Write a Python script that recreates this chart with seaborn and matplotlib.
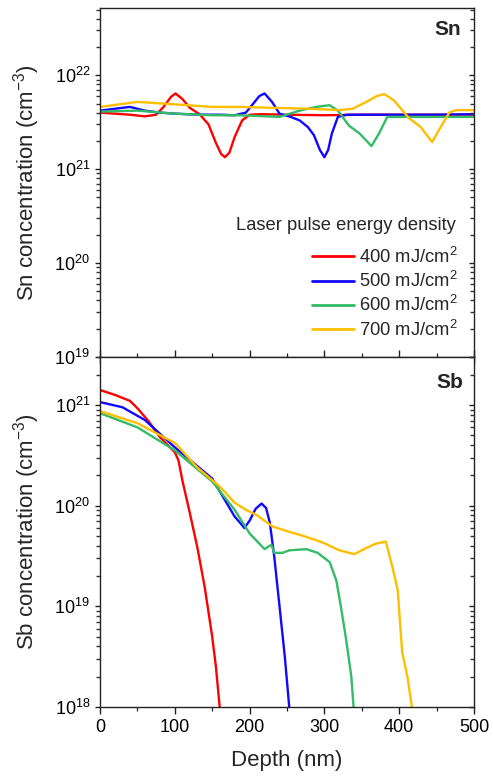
import matplotlib
matplotlib.use('Agg')
import matplotlib.pyplot as plt
from matplotlib.lines import Line2D
from matplotlib.ticker import MultipleLocator, FixedLocator, NullFormatter, LogFormatterSciNotation
import seaborn as sns
import pandas as pd
import numpy as np

# ---------------- data ----------------
energies = ['400 mJ/cm$^2$', '500 mJ/cm$^2$', '600 mJ/cm$^2$', '700 mJ/cm$^2$']
colors = ['#FF0000', '#1208FF', '#33BB66', '#FFBF00']

# Sn profiles (depth nm, concentration cm^-3)
sn_400_d = [0, 20, 40, 60, 75, 85, 95, 101, 110, 120, 133, 145, 155, 162, 167, 173, 180, 190, 200, 215, 250, 300, 350, 400, 450, 500]
sn_400_c = [4.0e21, 3.9e21, 3.8e21, 3.65e21, 3.8e21, 4.6e21, 5.9e21, 6.4e21, 5.6e21, 4.5e21, 3.85e21, 3.0e21, 1.9e21,
            1.45e21, 1.34e21, 1.5e21, 2.2e21, 3.3e21, 3.8e21, 3.85e21, 3.8e21, 3.75e21, 3.8e21, 3.8e21, 3.8e21, 3.8e21]

sn_500_d = [0, 20, 40, 60, 80, 100, 130, 160, 180, 195, 205, 213, 220, 230, 240, 255, 267, 278, 286, 294, 300, 305, 310, 318, 330, 360, 400, 450, 500]
sn_500_c = [4.2e21, 4.4e21, 4.6e21, 4.2e21, 4.0e21, 3.9e21, 3.8e21, 3.8e21, 3.75e21, 4.0e21, 5.0e21, 6.0e21, 6.4e21, 5.2e21,
            3.9e21, 3.6e21, 3.3e21, 2.8e21, 2.3e21, 1.6e21, 1.34e21, 1.6e21, 2.4e21, 3.6e21, 3.8e21, 3.8e21, 3.8e21, 3.8e21, 3.85e21]

sn_600_d = [0, 50, 100, 150, 187, 240, 267, 289, 307, 318, 333, 347, 363, 373, 384, 400, 450, 500]
sn_600_c = [4.1e21, 4.2e21, 3.9e21, 3.75e21, 3.75e21, 3.6e21, 4.2e21, 4.6e21, 4.8e21, 4.2e21, 2.9e21, 2.4e21, 1.76e21,
            2.4e21, 3.6e21, 3.6e21, 3.6e21, 3.6e21]

sn_700_d = [0, 50, 100, 150, 187, 230, 280, 320, 338, 356, 370, 380, 393, 404, 413, 429, 444, 453, 467, 476, 500]
sn_700_c = [4.6e21, 5.2e21, 4.9e21, 4.6e21, 4.6e21, 4.5e21, 4.4e21, 4.25e21, 4.4e21, 5.2e21, 6.0e21, 6.3e21, 5.4e21,
            4.25e21, 3.5e21, 2.8e21, 1.94e21, 2.6e21, 4.0e21, 4.25e21, 4.25e21]

# Sb profiles
sb_400_d = [0, 20, 40, 50, 65, 80, 100, 105, 110, 120, 130, 140, 150, 155, 160]
sb_400_c = [1.41e21, 1.26e21, 1.10e21, 9.3e20, 6.9e20, 4.8e20, 3.4e20, 2.8e20, 1.8e20, 8.5e19, 3.9e19, 1.55e19,
            5.0e18, 2.5e18, 1.0e18]

sb_500_d = [0, 30, 60, 100, 150, 180, 187, 193, 200, 208, 216, 222, 227, 233, 240, 247, 253]
sb_500_c = [1.07e21, 9.5e20, 7.1e20, 3.8e20, 1.86e20, 7.8e19, 6.8e19, 6.0e19, 7.1e19, 9.3e19, 1.05e20, 9.5e19,
            6.8e19, 3.1e19, 1.0e19, 3.2e18, 1.0e18]

sb_600_d = [0, 50, 100, 150, 180, 200, 220, 229, 233, 244, 253, 276, 291, 307, 316, 322, 329, 336, 339]
sb_600_c = [8.3e20, 6.0e20, 3.55e20, 1.74e20, 9.1e19, 5.3e19, 3.7e19, 4.1e19, 3.4e19, 3.4e19, 3.6e19, 3.7e19,
            3.4e19, 2.75e19, 1.8e19, 1.0e19, 4.7e18, 2.0e18, 1.0e18]

sb_700_d = [0, 50, 100, 130, 160, 180, 195, 209, 231, 253, 276, 298, 320, 340, 356, 369, 382, 391, 398, 404, 411, 417]
sb_700_c = [8.7e20, 6.6e20, 4.2e20, 2.4e20, 1.55e20, 1.07e20, 9.1e19, 8.1e19, 6.2e19, 5.5e19, 4.9e19, 4.3e19,
            3.6e19, 3.3e19, 3.8e19, 4.2e19, 4.4e19, 2.45e19, 1.45e19, 3.5e18, 2.0e18, 1.0e18]

x_ticks = [0, 100, 200, 300, 400, 500]
sn_yticks = [1e19, 1e20, 1e21, 1e22]
sb_yticks = [1e18, 1e19, 1e20, 1e21]


def long_df(ds, cs):
    frames = []
    for lab, d, c in zip(energies, ds, cs):
        frames.append(pd.DataFrame({'depth': d, 'conc': c, 'energy': lab}))
    return pd.concat(frames, ignore_index=True)


df_sn = long_df([sn_400_d, sn_500_d, sn_600_d, sn_700_d], [sn_400_c, sn_500_c, sn_600_c, sn_700_c])
df_sb = long_df([sb_400_d, sb_500_d, sb_600_d, sb_700_d], [sb_400_c, sb_500_c, sb_600_c, sb_700_c])


def minor_log(lo_exp, hi_exp):
    return [k * 10.0 ** e for e in range(lo_exp, hi_exp + 1) for k in range(2, 10)]


# ---------------- style ----------------
sns.set_style('ticks')
plt.rcParams['font.family'] = ['Liberation Sans', 'DejaVu Sans']
plt.rcParams['mathtext.fontset'] = 'custom'
plt.rcParams['mathtext.rm'] = 'Liberation Sans'
plt.rcParams['mathtext.it'] = 'Liberation Sans:italic'
plt.rcParams['mathtext.bf'] = 'Liberation Sans:bold'
plt.rcParams['axes.edgecolor'] = '#222222'
plt.rcParams['axes.linewidth'] = 1.0
plt.rcParams['ytick.minor.visible'] = True

fig = plt.figure(figsize=(4.93, 7.78), dpi=100)
fig.patch.set_facecolor('white')
ax1 = fig.add_axes([100 / 493, 421 / 778, 374 / 493, 349 / 778])
ax2 = fig.add_axes([100 / 493, 71 / 778, 374 / 493, 350 / 778])

palette = dict(zip(energies, colors))
for ax, df, yt in [(ax1, df_sn, sn_yticks), (ax2, df_sb, sb_yticks)]:
    sns.lineplot(data=df, x='depth', y='conc', hue='energy', hue_order=energies, palette=palette,
                 estimator=None, sort=False, linewidth=1.7, legend=False, ax=ax)
    ax.set_yscale('log')
    ax.set_xlim(0, 500)
    ax.xaxis.set_major_locator(MultipleLocator(100))
    ax.xaxis.set_minor_locator(MultipleLocator(50))
    ax.yaxis.set_major_locator(FixedLocator(yt))
    ax.yaxis.set_major_formatter(LogFormatterSciNotation())
    ax.yaxis.set_minor_locator(FixedLocator(minor_log(17, 22)))
    ax.yaxis.set_minor_formatter(NullFormatter())
    ax.tick_params(axis='y', which='major', direction='out', length=3.6, width=1.0, labelsize=13,
                   left=True, right=False, colors='#222222', labelcolor='black')
    ax.tick_params(axis='y', which='minor', direction='out', length=3.0, width=1.0, left=True, right=False,
                   colors='#333333')
    ax.set_xlabel('')

ax1.set_ylim(1e19, 5.2e22)
ax2.set_ylim(1e18, 3.0e21)

# x ticks
ax1.tick_params(axis='x', which='major', direction='inout', length=10, width=1.0, bottom=True, top=False,
                labelbottom=False, colors='#222222')
ax1.tick_params(axis='x', which='minor', direction='inout', length=6, width=0.9, bottom=True, top=False,
                colors='#222222')
ax2.set_xticks(x_ticks)
ax2.tick_params(axis='x', which='major', direction='out', length=5, width=1.0, bottom=True, top=False,
                labelsize=13, colors='#222222', labelcolor='black')
ax2.tick_params(axis='x', which='minor', direction='out', length=2.6, width=0.9, bottom=True, top=False,
                colors='#222222')

# right-side inward ticks
for ax, yt in [(ax1, sn_yticks), (ax2, sb_yticks)]:
    tw = ax.twinx()
    tw.set_yscale('log')
    tw.set_ylim(ax.get_ylim())
    tw.yaxis.set_major_locator(FixedLocator(yt))
    tw.yaxis.set_minor_locator(FixedLocator(minor_log(17, 22)))
    tw.yaxis.set_minor_formatter(NullFormatter())
    tw.tick_params(axis='y', which='major', direction='in', length=3.6, width=1.0, labelright=False,
                   colors='#222222')
    tw.tick_params(axis='y', which='minor', direction='in', length=3.0, width=1.0, colors='#333333')
    tw.set_ylim(ax.get_ylim())
    for s in tw.spines.values():
        s.set_visible(False)

ax1.set_ylabel('Sn concentration (cm$^{-3}$)', fontsize=16)
ax2.set_ylabel('Sb concentration (cm$^{-3}$)', fontsize=16)
ax1.yaxis.set_label_coords(-0.155, 0.5)
ax2.yaxis.set_label_coords(-0.155, 0.5)
ax2.set_xlabel('Depth (nm)', fontsize=16)
ax2.xaxis.set_label_coords(0.5, -0.122)

ax1.text(0.965, 0.937, 'Sn', transform=ax1.transAxes, ha='right', va='center', fontsize=15, fontweight='bold')
ax2.text(0.972, 0.926, 'Sb', transform=ax2.transAxes, ha='right', va='center', fontsize=15, fontweight='bold')

ax1.text(0.952, 0.378, 'Laser pulse energy density', transform=ax1.transAxes, ha='right', va='center',
         fontsize=13.2)
handles = [Line2D([], [], color=c, lw=2.0) for c in colors]
leg = ax1.legend(handles, energies, loc='lower right',
                 bbox_to_anchor=(0.955, 0.05), frameon=False, fontsize=13.2,
                 handlelength=2.3, handletextpad=0.25, labelspacing=0.23, borderaxespad=0, borderpad=0)

fig.savefig('out.png', dpi=100, facecolor='white')
